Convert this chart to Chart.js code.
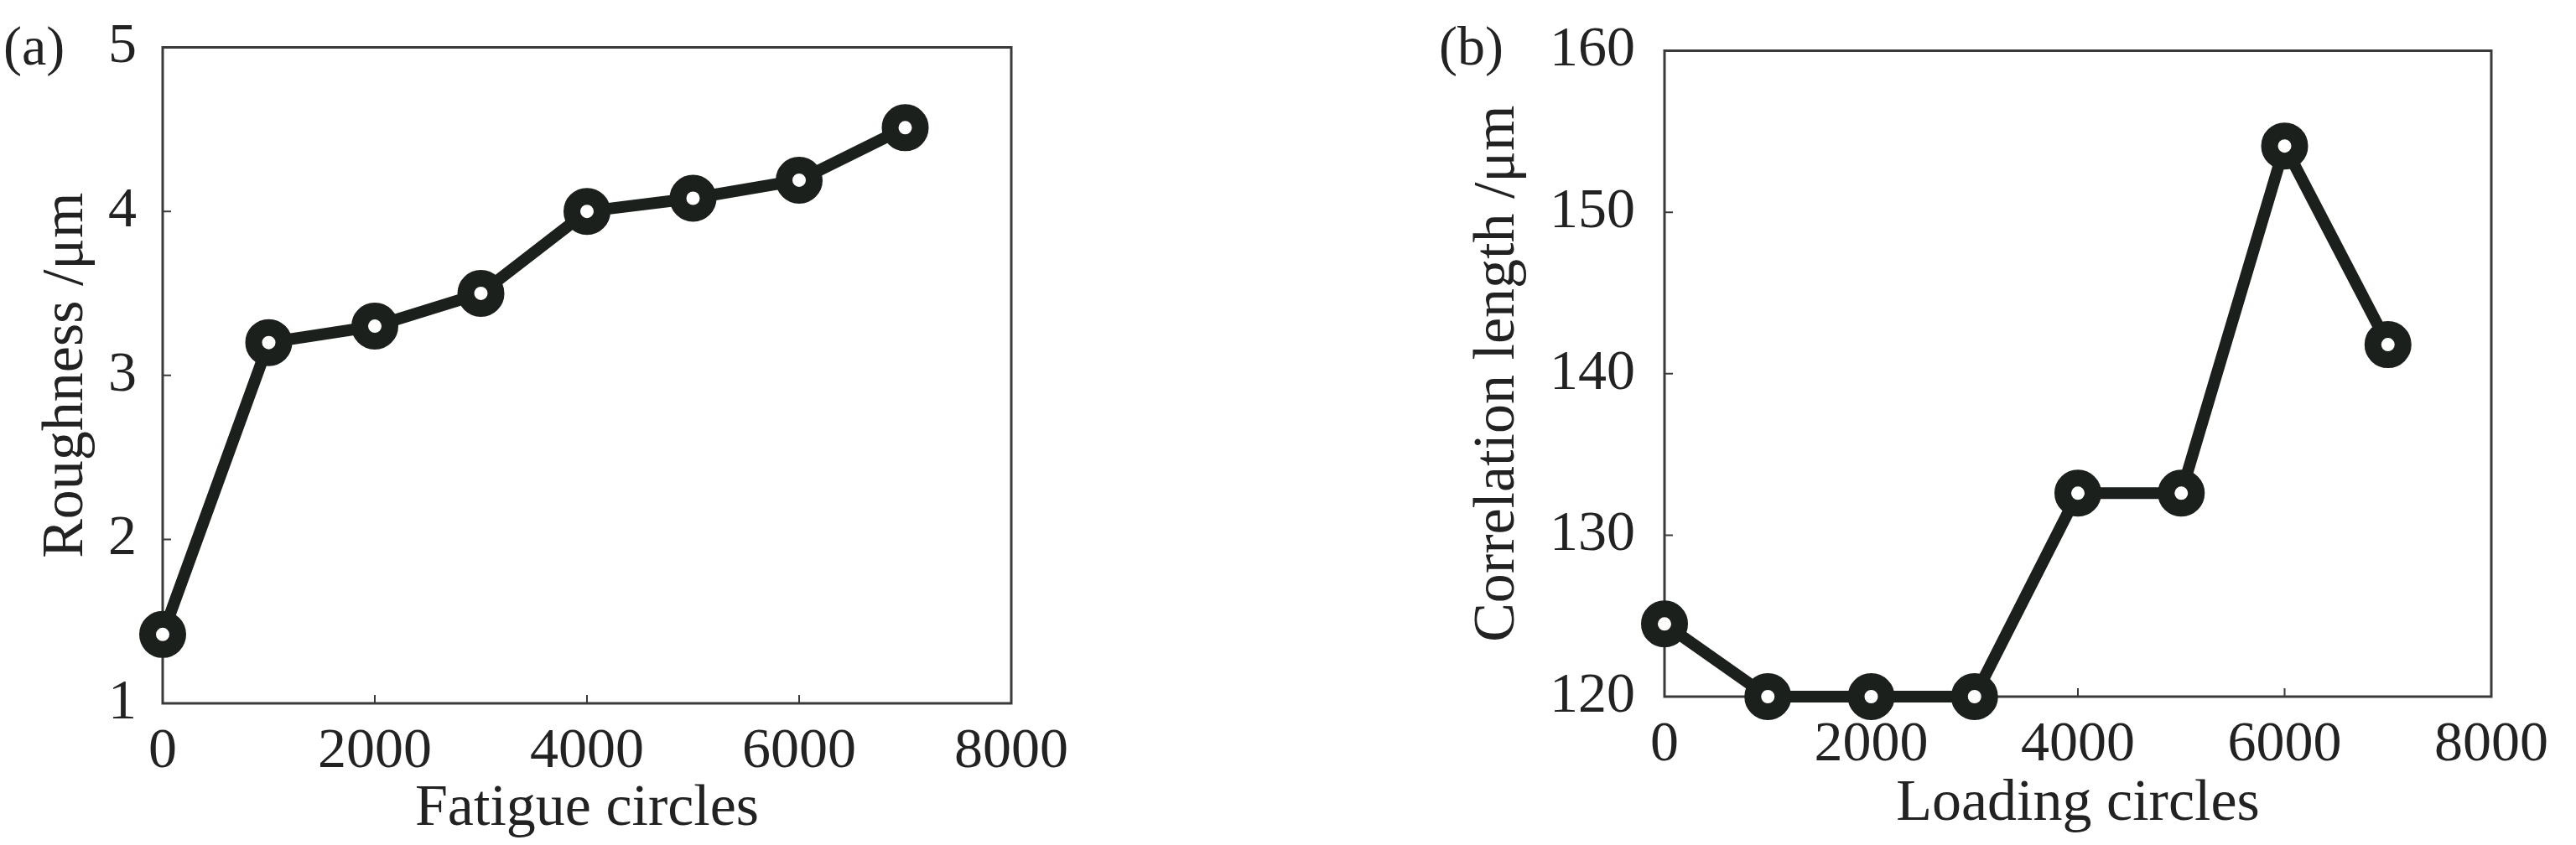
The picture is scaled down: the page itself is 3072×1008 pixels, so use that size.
<!DOCTYPE html>
<html lang="en">
<head>
    <meta charset="UTF-8">
    <title>Roughness and correlation length</title>
    <script src="https://cdn.jsdelivr.net/npm/chart.js"></script>
    <style>
        body { margin: 0; background: #fff; width: 3072px; height: 1008px; position: relative; overflow: hidden; }
        canvas { position: absolute; top: 0; }
        #cA { left: 0; }
        #cB { left: 1536px; }
        .tag { position: absolute; top: 22px; font-family: "Liberation Serif", serif; font-size: 66px; color: #222; line-height: 1; }
    </style>
</head>
<body>
    <div class="tag" style="left: 4px;">(a)</div>
    <div class="tag" style="left: 1716px;">(b)</div>
    <canvas id="cA" width="1536" height="1008"></canvas>
    <canvas id="cB" width="1536" height="1008"></canvas>

    <script>
        // values
        const cycles = [0, 1000, 2000, 3000, 4000, 5000, 6000, 7000];
        const roughness = [1.42, 3.20, 3.30, 3.50, 4.00, 4.08, 4.19, 4.51];
        const corrLength = [124.5, 120.0, 120.0, 120.0, 132.6, 132.6, 154.1, 141.8];

        const xTitleA = 'Fatigue circles';
        const yTitleA = 'Roughness /\u03bcm';
        const xTitleB = 'Loading circles';
        const yTitleB = 'Correlation length /\u03bcm';

        const ink = '#1c201c';
        const serif = '"Liberation Serif", "Times New Roman", serif';

        // box around the plot area + short ticks pointing inward
        const framePlugin = {
            id: 'frame',
            beforeDatasetsDraw(chart) {
                const { ctx, chartArea: a, scales } = chart;
                ctx.save();
                ctx.strokeStyle = '#3a3a3a';
                ctx.lineWidth = 3;
                ctx.strokeRect(a.left, a.top, a.right - a.left, a.bottom - a.top);
                ctx.lineWidth = 2;
                ctx.beginPath();
                scales.x.ticks.forEach(t => {
                    const px = scales.x.getPixelForValue(t.value);
                    ctx.moveTo(px, a.bottom);
                    ctx.lineTo(px, a.bottom - 10);
                });
                scales.y.ticks.forEach(t => {
                    const py = scales.y.getPixelForValue(t.value);
                    ctx.moveTo(a.left, py);
                    ctx.lineTo(a.left + 10, py);
                });
                ctx.stroke();
                ctx.restore();
            }
        };

        function makeChart(id, ys, cfg) {
            const ctx = document.getElementById(id).getContext('2d');
            return new Chart(ctx, {
                type: 'line',
                data: {
                    datasets: [{
                        data: cycles.map((c, i) => ({ x: c, y: ys[i] })),
                        borderColor: ink,
                        borderWidth: 14,
                        pointRadius: 18,
                        pointBorderWidth: 20,
                        pointBorderColor: ink,
                        pointBackgroundColor: '#fff',
                        pointStyle: 'circle',
                        tension: 0,
                        clip: false
                    }]
                },
                options: {
                    responsive: false,
                    animation: false,
                    layout: { padding: { left: 0, top: cfg.top, right: cfg.right, bottom: 0 } },
                    plugins: { legend: { display: false }, tooltip: { enabled: false } },
                    scales: {
                        x: {
                            type: 'linear',
                            min: 0, max: 8000,
                            afterFit: s => { s.height = cfg.xH; },
                            grid: { display: false, drawTicks: false },
                            border: { display: false },
                            ticks: {
                                stepSize: 2000, padding: 33, color: '#222',
                                maxRotation: 0,
                                callback: v => String(v),
                                font: { family: serif, size: 68, lineHeight: 0.75 }
                            },
                            title: {
                                display: true, text: cfg.xTitle, color: '#222',
                                padding: { top: 0, bottom: cfg.xTitlePad },
                                font: { family: serif, size: 70, lineHeight: 1.2 }
                            }
                        },
                        y: {
                            min: cfg.yMin, max: cfg.yMax,
                            afterFit: s => { s.width = cfg.yW; },
                            grid: { display: false, drawTicks: false },
                            border: { display: false },
                            ticks: {
                                stepSize: cfg.yStep, padding: cfg.yTickPad, color: '#222',
                                callback: v => String(v),
                                font: { family: serif, size: 68, lineHeight: 0.75 }
                            },
                            title: {
                                display: true, text: cfg.yTitle, color: '#222',
                                padding: { top: cfg.yTitlePad, bottom: 0 },
                                font: { family: serif, size: 70, lineHeight: 1.2 }
                            }
                        }
                    }
                },
                plugins: [framePlugin]
            });
        }

        makeChart('cA', roughness, {
            top: 34, right: 330, xH: 169, yW: 194,
            yMin: 1, yMax: 5, yStep: 1, yTickPad: 31,
            xTitle: xTitleA, yTitle: yTitleA,
            xTitlePad: 0, yTitlePad: 38
        });

        makeChart('cB', corrLength, {
            top: 27, right: 76, xH: 177, yW: 449,
            yMin: 120, yMax: 160, yStep: 10, yTickPad: 35,
            xTitle: xTitleB, yTitle: yTitleB,
            xTitlePad: 6, yTitlePad: 209
        });
    </script>
</body>
</html>
